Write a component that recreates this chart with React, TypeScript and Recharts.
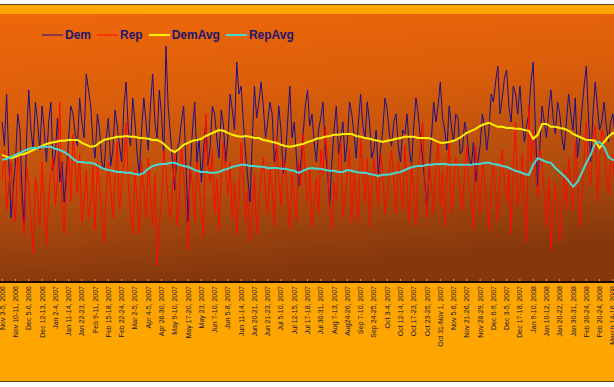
import React from 'react';
import { LineChart, Line, XAxis, YAxis, CartesianGrid, Legend } from 'recharts';

const TICK_LABELS = [
  'Nov 3-5, 2006', 'Nov 10-11, 2006', 'Dec 5-6, 2006', 'Dec 12-13, 2006', 'Jan 2-4, 2007',
  'Jan 11-14, 2007', 'Jan 22-23, 2007', 'Feb 9-11, 2007', 'Feb 15-18, 2007', 'Feb 22-24, 2007',
  'Mar 2-5, 2007', 'Apr 4-5, 2007', 'Apr 26-30, 2007', 'May 9-10, 2007', 'May 17-20, 2007',
  'May 23, 2007', 'Jun 7-10, 2007', 'Jun 5-8, 2007', 'Jun 11-14, 2007', 'Jun 20-21, 2007',
  'Jun 21-23, 2007', 'Jul 5-10, 2007', 'Jul 12-15, 2007', 'Jul 17-18, 2007', 'Jul 30-31, 2007',
  'Aug 7-13, 2007', 'Aug24-26, 2007', 'Sep 7-10, 2007', 'Sep 24-25, 2007', 'Oct 3-4, 2007',
  'Oct 12-14, 2007', 'Oct 17-23, 2007', 'Oct 23-25, 2007', 'Oct 31-Nov 1, 2007', 'Nov 5-6, 2007',
  'Nov 21-26, 2007', 'Nov 28-29, 2007', 'Dec 6-9, 2007', 'Dec 3-5, 2007', 'Dec 17-18, 2007',
  'Jan 9-10, 2008', 'Jan 10-12, 2008', 'Jan 20-22, 2008', 'Jan 30-31, 2008', 'Feb 20-24, 2008',
  'Feb 20-24, 2008', 'March 14-16, 2008',
];
// one tick label every 3 poll-average steps; raw polls are sampled every half step
const POINTS_PER_LABEL = 3;

// raw poll values (half-step resolution)
const DEM = [
  40, 34, 47, 30, 16, 24, 30, 42, 38, 22, 14, 36, 48, 38, 33, 45, 40, 33, 44, 38,
  30, 40, 45, 28, 32, 41, 25, 30, 20, 27, 36, 44, 42, 37, 34, 46, 40, 36, 52, 48,
  44, 35, 31, 42, 38, 30, 28, 36, 41, 29, 33, 43, 39, 34, 30, 44, 50, 38, 34, 46,
  40, 32, 27, 38, 46, 40, 33, 44, 52, 40, 36, 48, 42, 31, 59, 44, 37, 30, 23, 33,
  35, 40, 44, 30, 15, 28, 38, 45, 30, 36, 25, 33, 40, 29, 34, 44, 42, 36, 31, 43,
  39, 30, 36, 47, 43, 38, 55, 47, 49, 40, 32, 26, 20, 35, 49, 41, 45, 50, 44, 36,
  40, 45, 42, 30, 34, 44, 38, 27, 31, 40, 49, 36, 40, 31, 24, 30, 37, 44, 48, 39,
  42, 35, 30, 38, 41, 45, 33, 28, 19, 30, 38, 44, 32, 36, 40, 30, 35, 45, 42, 37,
  31, 40, 47, 39, 36, 45, 40, 31, 33, 38, 27, 33, 38, 46, 43, 37, 34, 40, 42, 34,
  30, 38, 37, 42, 33, 29, 39, 46, 42, 36, 31, 25, 18, 28, 36, 45, 40, 44, 50, 41,
  38, 33, 44, 39, 35, 42, 41, 32, 33, 40, 37, 31, 29, 35, 25, 30, 34, 42, 39, 33,
  38, 47, 45, 50, 54, 42, 46, 51, 53, 44, 40, 49, 47, 42, 49, 41, 35, 39, 42, 50,
  55, 38, 24, 34, 44, 40, 36, 43, 48, 41, 37, 45, 42, 36, 33, 40, 47, 42, 38, 46,
  31, 36, 43, 49, 54, 41, 30, 42, 50, 44, 38, 40, 45, 39, 35, 40, 42, 37, 33, 38,
  40, 44, 36, 39, 41,
];

const REP = [
  26, 33, 18, 24, 30, 20, 15, 32, 28, 17, 12, 29, 24, 15, 7, 26, 22, 14, 30, 20,
  9, 22, 27, 31, 19, 26, 45, 20, 12, 24, 33, 20, 37, 29, 22, 32, 15, 20, 28, 16,
  20, 29, 13, 30, 24, 17, 10, 22, 30, 24, 16, 26, 35, 18, 25, 30, 40, 24, 18, 12,
  28, 20, 12, 30, 23, 16, 31, 22, 14, 27, 4, 14, 20, 33, 28, 20, 16, 24, 32, 14,
  21, 34, 27, 18, 8, 29, 24, 15, 30, 24, 18, 11, 42, 30, 25, 33, 17, 26, 13, 27,
  35, 28, 22, 30, 16, 25, 12, 21, 35, 26, 15, 23, 10, 18, 27, 12, 20, 26, 31, 22,
  17, 28, 24, 14, 36, 26, 19, 31, 28, 22, 13, 27, 21, 15, 30, 24, 37, 26, 20, 28,
  14, 20, 26, 17, 33, 27, 39, 30, 18, 13, 25, 20, 30, 35, 16, 22, 27, 33, 15, 27,
  22, 15, 36, 28, 20, 31, 14, 24, 31, 25, 19, 32, 27, 17, 22, 28, 33, 25, 17, 30,
  25, 18, 34, 24, 15, 30, 22, 14, 28, 34, 40, 25, 16, 30, 24, 17, 30, 35, 19, 28,
  14, 26, 35, 17, 23, 31, 28, 22, 18, 27, 34, 24, 21, 13, 34, 26, 17, 30, 26, 20,
  13, 24, 30, 22, 15, 27, 33, 25, 20, 28, 12, 30, 40, 19, 23, 32, 17, 10, 44, 30,
  38, 26, 21, 33, 30, 22, 14, 26, 8, 18, 25, 16, 10, 20, 28, 18, 31, 24, 18, 35,
  26, 14, 20, 31, 40, 28, 24, 36, 39, 20, 30, 38, 36, 27, 22, 30, 32, 21, 27, 36,
  34, 20, 25, 33, 30,
];

// running averages (one value per step)
const DEM_AVG = [
  31.8, 31.3, 31, 31.3, 31.8, 32, 32.5, 33, 33.5, 34,
  34.5, 34.8, 35, 35.3, 35.3, 35.5, 35.5, 35.5, 34.8, 34.3,
  33.8, 34, 34.8, 35.5, 35.8, 36, 36.3, 36.3, 36.5, 36.3,
  36.3, 36, 36, 35.8, 35.5, 35.5, 35, 34, 33, 32.5,
  33.3, 34.3, 34.8, 35.3, 35.5, 35.8, 36.5, 37, 37.5, 38,
  37.8, 37.3, 36.8, 36.5, 36.3, 36.5, 36.3, 36, 36, 35.5,
  35.3, 35, 34.8, 34.3, 34, 33.8, 34, 34.3, 34.5, 35,
  35.3, 35.8, 36, 36.3, 36.5, 36.8, 36.8, 37, 37, 37,
  36.5, 36.3, 36, 35.8, 35.5, 35.3, 35, 35.3, 35.5, 35.8,
  36, 36.3, 36.3, 36.3, 36, 36, 36, 35.8, 35.3, 34.8,
  34.8, 35, 35.3, 35.8, 36.5, 37.3, 37.8, 38.3, 39, 39.5,
  39.8, 39.3, 38.8, 38.8, 38.5, 38.5, 38.3, 38.3, 38, 37.8,
  35.8, 36.8, 39.5, 39.5, 38.8, 38.8, 38.5, 38.3, 37.8, 37,
  36.5, 36, 35.5, 35.5, 35.3, 33.5, 35, 36.3, 37.3, 36.5,
  35.5, 35.3, 35.5,
];

const REP_AVG = [
  30.5, 30.8, 31.3, 31.8, 32.3, 32.8, 33.3, 33.5, 33.5, 33.8,
  33.8, 33.8, 33.3, 33, 32.5, 31.8, 30.8, 30, 30, 29.8,
  29.8, 29.5, 28.8, 28.3, 28, 27.8, 27.5, 27.5, 27.3, 27.3,
  27, 26.8, 27.3, 28.3, 29, 29.3, 29.5, 29.5, 29.8, 29.8,
  29.3, 29, 28.8, 28.3, 27.8, 27.5, 27.5, 27.3, 27.3, 27.5,
  28, 28.3, 28.8, 29, 29.3, 29.3, 29, 29, 28.8, 28.8,
  28.5, 28.5, 28.5, 28.3, 28.3, 28, 27.8, 27.3, 27.8, 28.3,
  28.5, 28.3, 28.3, 28, 27.8, 27.8, 27.5, 27.5, 28, 27.8,
  27.5, 27.3, 27.3, 27, 26.8, 26.5, 26.8, 26.8, 27, 27.3,
  27.5, 28, 28.5, 28.8, 29, 29, 29.3, 29.3, 29.5, 29.5,
  29.5, 29.3, 29.3, 29.3, 29.3, 29.3, 29.3, 29.5, 29.5, 29.8,
  29.8, 29.5, 29.3, 29, 28.8, 28.3, 27.8, 27.5, 27, 26.8,
  29.3, 31, 30.5, 30, 29.8, 28.5, 27.5, 26.5, 25.3, 23.8,
  25, 27.3, 29.8, 31.8, 34.8, 35, 33.8, 31.3, 30.5, 30.5,
  30.5, 31, 31.3,
];

const rawData = DEM.map((d, j) => ({ x: j / 2, Dem: d, Rep: REP[j] }));
const avgData = DEM_AVG.map((d, i) => ({ x: i, DemAvg: d, RepAvg: REP_AVG[i] }));
const tickIdx = TICK_LABELS.map((_, k) => k * POINTS_PER_LABEL);

const SERIES = [
  { key: 'Dem', color: '#1E108C', width: 1 },
  { key: 'Rep', color: '#FF0A00', width: 1 },
  { key: 'DemAvg', color: '#FFF200', width: 2 },
  { key: 'RepAvg', color: '#48D8D0', width: 2 },
];

const FONT = '"Liberation Sans", Arial, Helvetica, sans-serif';

const AxisTick = (props: any) => {
  const { x, y, payload } = props;
  const label = TICK_LABELS[Math.round(payload.value / POINTS_PER_LABEL)] ?? '';
  return (
    <g transform={`translate(${x},${y})`}>
      <line x1={0} x2={0} y1={-7} y2={-5} stroke="#E89A4A" strokeWidth={1} />
      <text
        transform="rotate(-90)"
        x={0}
        y={2.5}
        textAnchor="end"
        fontSize={7}
        fill="#15153C"
        fontFamily={FONT}
      >
        {label}
      </text>
    </g>
  );
};

const LegendContent = (props: any) => {
  const payload = props.payload || [];
  const ordered = SERIES.map((s) => {
    const p = payload.find((q: any) => q.value === s.key || q.dataKey === s.key);
    return { name: s.key, color: p ? p.color : s.color, width: s.width };
  });
  return (
    <div
      style={{
        display: 'flex',
        alignItems: 'center',
        fontFamily: FONT,
        fontWeight: 'bold',
        fontSize: 12,
        color: '#1E166E',
        whiteSpace: 'nowrap',
      }}
    >
      {ordered.map((p) => (
        <div key={p.name} style={{ display: 'flex', alignItems: 'center', marginRight: 6 }}>
          <svg width={21} height={4} style={{ display: 'block' }}>
            <line x1={0} y1={2} x2={21} y2={2} stroke={p.color} strokeWidth={p.width} />
          </svg>
          <span style={{ marginLeft: 2, lineHeight: '14px' }}>{p.name}</span>
        </div>
      ))}
    </div>
  );
};

export default function App() {
  return (
    <div
      style={{
        position: 'absolute',
        left: 0,
        top: 0,
        width: 614,
        height: 387,
        overflow: 'hidden',
        background: '#ffffff',
      }}
    >
      <div
        style={{
          position: 'absolute',
          left: 0,
          top: 4,
          width: 614,
          height: 376,
          background: '#FFA500',
          borderTop: '1px solid #5C4A12',
          borderBottom: '1px solid #5C4A12',
        }}
      />
      <div style={{ position: 'absolute', left: 0, top: 0 }}>
        <LineChart
          width={635}
          height={387}
          data={avgData}
          margin={{ top: 14, right: 0, bottom: 5, left: 0 }}
        >
          <defs>
            <linearGradient id="plotBg" x1="0" y1="0" x2="0.2" y2="1">
              <stop offset="0" stopColor="#EE680A" />
              <stop offset="0.35" stopColor="#DB5E0A" />
              <stop offset="0.7" stopColor="#B04C0E" />
              <stop offset="1" stopColor="#86380D" />
            </linearGradient>
          </defs>
          <CartesianGrid horizontal={false} vertical={false} fill="url(#plotBg)" fillOpacity={1} />
          <XAxis
            dataKey="x"
            type="number"
            domain={[-0.5, 143]}
            ticks={tickIdx}
            interval={0}
            tick={<AxisTick />}
            tickLine={false}
            tickSize={4}
            tickMargin={0}
            axisLine={{ stroke: '#1A0A00', strokeWidth: 2 }}
            height={100}
            allowDuplicatedCategory={false}
          />
          <YAxis hide domain={[0, 67]} />
          <Legend
            layout="horizontal"
            verticalAlign="middle"
            align="center"
            wrapperStyle={{ top: 28, left: 42, width: 'auto' }}
            content={<LegendContent />}
          />
          <Line
            data={rawData}
            type="linear"
            dataKey="Dem"
            stroke={SERIES[0].color}
            strokeWidth={1}
            dot={false}
            isAnimationActive={false}
          />
          <Line
            data={rawData}
            type="linear"
            dataKey="Rep"
            stroke={SERIES[1].color}
            strokeWidth={1}
            dot={false}
            isAnimationActive={false}
          />
          <Line
            type="linear"
            dataKey="DemAvg"
            stroke={SERIES[2].color}
            strokeWidth={2}
            dot={false}
            isAnimationActive={false}
          />
          <Line
            type="linear"
            dataKey="RepAvg"
            stroke={SERIES[3].color}
            strokeWidth={2}
            dot={false}
            isAnimationActive={false}
          />
        </LineChart>
      </div>
    </div>
  );
}
